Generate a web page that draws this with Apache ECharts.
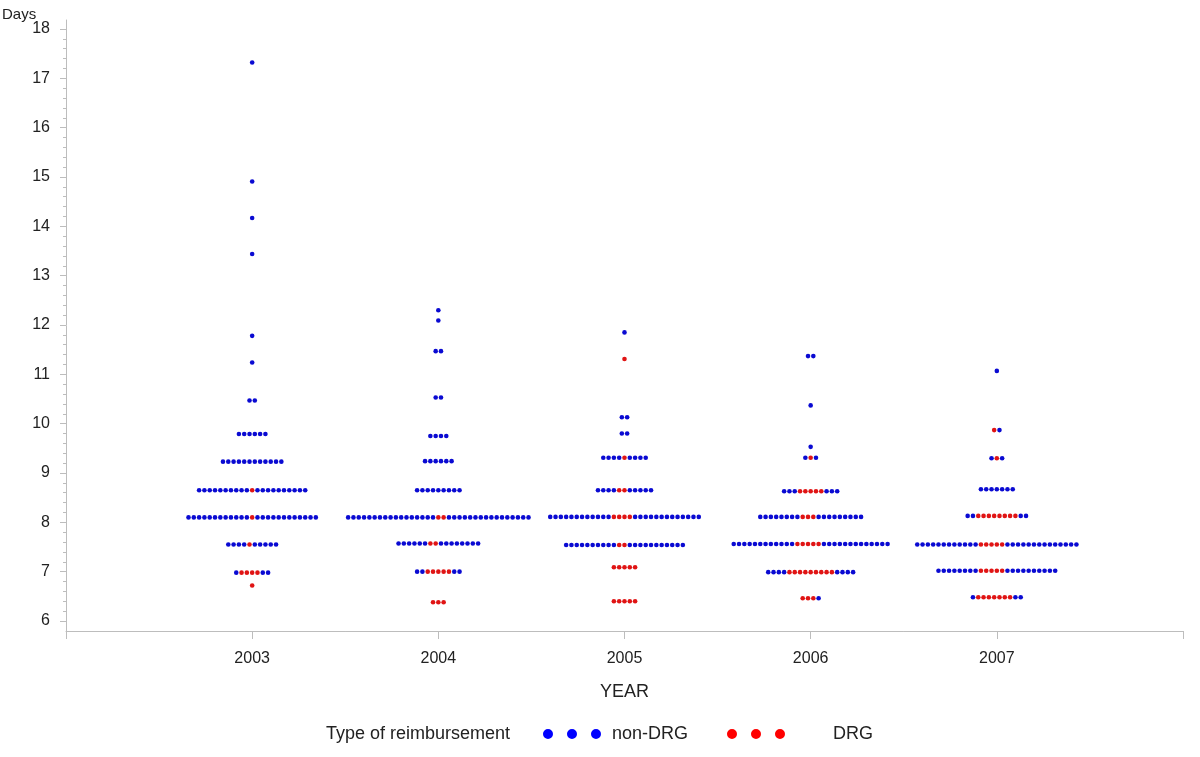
<!DOCTYPE html>
<html><head><meta charset="utf-8">
<script src="https://cdn.jsdelivr.net/npm/echarts@6/dist/echarts.min.js"></script>
<style>html,body{margin:0;padding:0;background:#fff}#c{width:1200px;height:757px}</style>
</head><body><div id="c"></div>
<script>
// ---- data (B = non-DRG dot, R = DRG dot, left to right in each row) ----
const years = [2003, 2004, 2005, 2006, 2007];
const yTicks = [6, 7, 8, 9, 10, 11, 12, 13, 14, 15, 16, 17, 18];
const seriesNames = ['non-DRG', 'DRG'];

const days2003 = [17.32, 14.91, 14.17, 13.44, 11.78, 11.24, 10.47, 9.79, 9.23, 8.65, 8.10, 7.55, 6.98, 6.72];
const dots2003 = ['B', 'B', 'B', 'B', 'B', 'B', 'BB', 'BBBBBB', 'BBBBBBBBBBBB',
  'BBBBBBBBBBRBBBBBBBBBB', 'BBBBBBBBBBBBRBBBBBBBBBBBB', 'BBBBRBBBBB', 'BRRRRBB', 'R'];

const days2004 = [12.30, 12.09, 11.47, 10.53, 9.75, 9.24, 8.65, 8.10, 7.57, 7.00, 6.38];
const dots2004 = ['B', 'B', 'BB', 'BB', 'BBBB', 'BBBBBB', 'BBBBBBBBB',
  'BBBBBBBBBBBBBBBBBRRBBBBBBBBBBBBBBBB', 'BBBBBBRRBBBBBBBB', 'BBRRRRRBB', 'RRR'];

const days2005 = [11.85, 11.31, 10.13, 9.80, 9.31, 8.65, 8.11, 7.54, 7.09, 6.40];
const dots2005 = ['B', 'R', 'BB', 'BB', 'BBBBRBBBB', 'BBBBRRBBBBB',
  'BBBBBBBBBBBBRRRRBBBBBBBBBBBBB', 'BBBBBBBBBBRRBBBBBBBBBBB', 'RRRRR', 'RRRRR'];

const days2006 = [11.37, 10.37, 9.53, 9.31, 8.63, 8.11, 7.56, 6.99, 6.46];
const dots2006 = ['BB', 'B', 'B', 'BRB', 'BBBRRRRRBBB', 'BBBBBBBBRRRBBBBBBBBB',
  'BBBBBBBBBBBBRRRRRBBBBBBBBBBBBB', 'BBBBRRRRRRRRRBBBB', 'RRRB'];

const days2007 = [11.07, 9.87, 9.30, 8.67, 8.13, 7.55, 7.02, 6.48];
const dots2007 = ['B', 'RB', 'BRB', 'BBBBBBB', 'BBRRRRRRRRBB',
  'BBBBBBBBBBBBRRRRRBBBBBBBBBBBBBB', 'BBBBBBBBRRRRRBBBBBBBBBB', 'BRRRRRRRBB'];

// ---- build point lists (dot plot: dots in a row spread side by side) ----
const DOT_STEP = 0.0285; // horizontal spacing of dots, in axis units
const perYear = [[days2003, dots2003], [days2004, dots2004], [days2005, dots2005],
                 [days2006, dots2006], [days2007, dots2007]];
const nonDrg = [], drg = [];
perYear.forEach(([vals, pats], k) => {
  const yr = years[k];
  vals.forEach((v, r) => {
    const p = pats[r], n = p.length;
    for (let i = 0; i < n; i++) {
      const pt = [yr + (i - (n - 1) / 2) * DOT_STEP, v];
      (p[i] === 'B' ? nonDrg : drg).push(pt);
    }
  });
});

const FONT = "'Liberation Sans', Arial, sans-serif";
const AX = '#bdbdbd';
const TXT = '#222';
const BLUE = '#0a0ad2', RED = '#e01414';
const threeDots = 'path://M0,5A5,5,0,1,0,10,5A5,5,0,1,0,0,5Z M24,5A5,5,0,1,0,34,5A5,5,0,1,0,24,5Z M48,5A5,5,0,1,0,58,5A5,5,0,1,0,48,5Z';

const chart = echarts.init(document.getElementById('c'), null, {renderer: 'canvas'});
chart.setOption({
  animation: false,
  backgroundColor: '#fff',
  textStyle: {fontFamily: FONT},
  title: [
    {text: 'Days', left: 2, top: 7, padding: 0, textStyle: {fontFamily: FONT, fontSize: 15, fontWeight: 'normal', color: TXT}},
    {text: 'Type of reimbursement', left: 326, top: 725, padding: 0, textStyle: {fontFamily: FONT, fontSize: 18, fontWeight: 'normal', color: TXT}}
  ],
  legend: [
    {data: [{name: seriesNames[0], itemStyle: {color: '#0000ff'}}], left: 538, top: 720, icon: threeDots,
     itemWidth: 58, itemHeight: 10, selectedMode: false,
     textStyle: {fontFamily: FONT, fontSize: 18, color: TXT, padding: [0, 0, 0, 6]}},
    {data: [{name: seriesNames[1], itemStyle: {color: '#ff0000'}}], left: 722, top: 720, icon: threeDots,
     itemWidth: 58, itemHeight: 10, selectedMode: false,
     textStyle: {fontFamily: FONT, fontSize: 18, color: TXT, padding: [0, 0, 0, 43]}}
  ],
  grid: [
    {left: 66, right: 17, top: 29, bottom: 136},
    {left: 66, right: 17, top: 20, bottom: 126}
  ],
  xAxis: [
    {gridIndex: 0, type: 'value', min: 2002, max: 2008, interval: 1, show: false},
    {gridIndex: 1, type: 'value', min: 2002, max: 2008, interval: 1,
     axisLine: {show: true, lineStyle: {color: AX, width: 1}},
     axisTick: {show: true, length: 8, lineStyle: {color: AX}},
     axisLabel: {margin: 20, fontSize: 16, color: TXT, fontFamily: FONT,
                 formatter: v => years.includes(v) ? String(v) : ''},
     splitLine: {show: false},
     name: 'YEAR', nameLocation: 'middle', nameGap: 52,
     nameTextStyle: {fontSize: 18, color: TXT, fontFamily: FONT}}
  ],
  yAxis: [
    {gridIndex: 0, type: 'value', min: yTicks[0], max: yTicks[yTicks.length - 1], interval: 1,
     axisLine: {show: false},
     axisTick: {show: true, length: 6, lineStyle: {color: AX}},
     minorTick: {show: true, splitNumber: 5, length: 3, lineStyle: {color: AX}},
     axisLabel: {margin: 16, fontSize: 16, color: TXT, fontFamily: FONT},
     splitLine: {show: false}},
    {gridIndex: 1, type: 'value', min: 0, max: 1,
     axisLine: {show: true, lineStyle: {color: AX, width: 1}},
     axisTick: {show: false}, axisLabel: {show: false}, splitLine: {show: false}}
  ],
  series: [
    {name: seriesNames[0], type: 'scatter', xAxisIndex: 0, yAxisIndex: 0, data: nonDrg,
     symbol: 'circle', symbolSize: 4.6, itemStyle: {color: BLUE, opacity: 1}},
    {name: seriesNames[1], type: 'scatter', xAxisIndex: 0, yAxisIndex: 0, data: drg,
     symbol: 'circle', symbolSize: 4.6, itemStyle: {color: RED, opacity: 1}}
  ]
});
</script></body></html>
